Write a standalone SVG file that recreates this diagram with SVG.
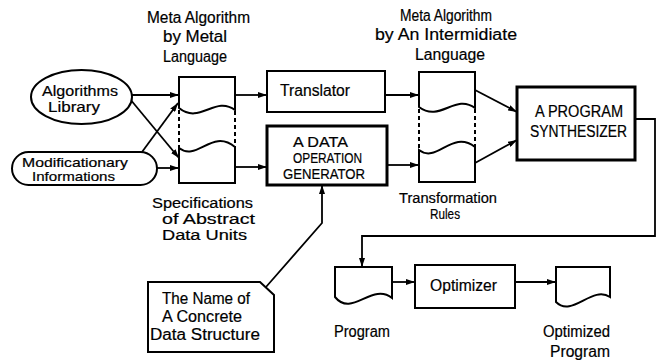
<svg xmlns="http://www.w3.org/2000/svg" width="664" height="361" viewBox="0 0 664 361">
<style>
  .s{fill:#fff;stroke:#000;stroke-width:2}
  .b{fill:#fff;stroke:#000;stroke-width:3}
  .d{fill:none;stroke:#000;stroke-width:2;stroke-dasharray:4 3}
  .c{fill:none;stroke:#000;stroke-width:1.8}
  text{font-family:"Liberation Sans",Arial,sans-serif;font-size:16px;fill:#000;stroke:#000;stroke-width:0.2}
  .t{font-size:14px}
</style>
<defs>
  <marker id="ah" markerUnits="userSpaceOnUse" markerWidth="9" markerHeight="6" refX="9" refY="3" orient="auto">
    <path d="M0,0 L9,3 L0,6 Z" fill="#000"/>
  </marker>
</defs>
<rect width="664" height="361" fill="#fff"/>

<g id="connectors">
  <line class="c" x1="132" y1="95" x2="179" y2="95" marker-end="url(#ah)"/>
  <line class="c" x1="130" y1="99" x2="179" y2="158" marker-end="url(#ah)"/>
  <line class="c" x1="142" y1="152" x2="178" y2="103" marker-end="url(#ah)"/>
  <line class="c" x1="157" y1="168" x2="179" y2="168" marker-end="url(#ah)"/>
  <line class="c" x1="235" y1="95" x2="267" y2="95" marker-end="url(#ah)"/>
  <line class="c" x1="235" y1="167" x2="267" y2="167" marker-end="url(#ah)"/>
  <line class="c" x1="385" y1="95" x2="419" y2="95" marker-end="url(#ah)"/>
  <line class="c" x1="387" y1="165" x2="419" y2="165" marker-end="url(#ah)"/>
  <line class="c" x1="475" y1="90" x2="517" y2="112" marker-end="url(#ah)"/>
  <line class="c" x1="475" y1="163" x2="517" y2="140" marker-end="url(#ah)"/>
  <polyline class="c" points="635,119 655,119 655,236 362,236 362,267" marker-end="url(#ah)"/>
  <line class="c" x1="392" y1="282" x2="415" y2="282" marker-end="url(#ah)"/>
  <line class="c" x1="515" y1="282" x2="556" y2="282" marker-end="url(#ah)"/>
  <polyline class="c" points="266,287 322,223 322,185" marker-end="url(#ah)"/>
</g>

<g id="meta-label-1">
  <text x="147" y="23" textLength="103" lengthAdjust="spacingAndGlyphs">Meta Algorithm</text>
  <text x="163" y="42" textLength="64" lengthAdjust="spacingAndGlyphs">by Metal</text>
  <text x="163" y="62" textLength="64" lengthAdjust="spacingAndGlyphs">Language</text>
</g>
<g id="meta-label-2">
  <text x="400" y="21" textLength="92" lengthAdjust="spacingAndGlyphs">Meta Algorithm</text>
  <text x="375" y="40" textLength="142" lengthAdjust="spacingAndGlyphs">by An Intermidiate</text>
  <text x="415" y="60" textLength="70" lengthAdjust="spacingAndGlyphs">Language</text>
</g>

<g id="algorithms-library">
  <ellipse class="s" cx="81.5" cy="97" rx="50.5" ry="27"/>
  <text class="t" x="42" y="96" textLength="76" lengthAdjust="spacingAndGlyphs">Algorithms</text>
  <text class="t" x="48" y="112" textLength="52" lengthAdjust="spacingAndGlyphs">Library</text>
</g>

<g id="modificationary">
  <rect class="s" x="12" y="152" width="145" height="33" rx="16.5"/>
  <text class="t" x="22" y="167" font-size="13" textLength="106" lengthAdjust="spacingAndGlyphs" style="font-size:13px">Modificationary</text>
  <text class="t" x="32" y="181" textLength="83" lengthAdjust="spacingAndGlyphs" style="font-size:13px">Informations</text>
</g>

<g id="meta-doc-1">
  <path class="s" d="M179,77 H235 V110 C215,95 200,125 179,108 Z"/>
  <path class="s" d="M179,148 C197,162 212,128 235,147 V183 H179 Z"/>
  <line class="d" x1="179" y1="110" x2="179" y2="148"/>
  <line class="d" x1="235" y1="111" x2="235" y2="147"/>
</g>

<g id="spec-label">
  <text class="t" x="152" y="208" textLength="101" lengthAdjust="spacingAndGlyphs">Specifications</text>
  <text class="t" x="162" y="224" textLength="93" lengthAdjust="spacingAndGlyphs">of Abstract</text>
  <text class="t" x="162" y="240" textLength="85" lengthAdjust="spacingAndGlyphs">Data Units</text>
</g>

<g id="translator">
  <rect class="s" x="267" y="71" width="118" height="41"/>
  <text x="280" y="96" textLength="70" lengthAdjust="spacingAndGlyphs">Translator</text>
</g>

<g id="data-op-gen">
  <rect class="b" x="267" y="126" width="120" height="59"/>
  <text class="t" x="293" y="147" textLength="55" lengthAdjust="spacingAndGlyphs">A DATA</text>
  <text class="t" x="293" y="163" textLength="69" lengthAdjust="spacingAndGlyphs">OPERATION</text>
  <text class="t" x="283" y="179" textLength="82" lengthAdjust="spacingAndGlyphs">GENERATOR</text>
</g>

<g id="meta-doc-2">
  <path class="s" d="M419,72 H475 V108 C455,93 440,123 419,107 Z"/>
  <path class="s" d="M419,150 C437,164 452,129 475,147 V182 H419 Z"/>
  <line class="d" x1="419" y1="109" x2="419" y2="150"/>
  <line class="d" x1="475" y1="109" x2="475" y2="147"/>
</g>

<g id="transformation-label">
  <text class="t" x="399" y="203" textLength="98" lengthAdjust="spacingAndGlyphs">Transformation</text>
  <text class="t" x="430" y="219" textLength="30" lengthAdjust="spacingAndGlyphs">Rules</text>
</g>

<g id="synthesizer">
  <rect class="b" x="517" y="87" width="118" height="73"/>
  <text x="535" y="117" textLength="88" lengthAdjust="spacingAndGlyphs">A PROGRAM</text>
  <text x="530" y="137" textLength="97" lengthAdjust="spacingAndGlyphs">SYNTHESIZER</text>
</g>

<g id="concrete-name">
  <path class="s" d="M148,282 H260 L274,295 V352 H148 Z"/>
  <text x="162" y="304" textLength="88" lengthAdjust="spacingAndGlyphs">The Name of</text>
  <text x="162" y="322" textLength="80" lengthAdjust="spacingAndGlyphs">A Concrete</text>
  <text x="150" y="340" textLength="110" lengthAdjust="spacingAndGlyphs">Data Structure</text>
</g>

<g id="program">
  <path class="s" d="M335,267 H392 V298 C372,282 352,318 335,297 Z"/>
  <text x="334" y="337" textLength="56" lengthAdjust="spacingAndGlyphs">Program</text>
</g>

<g id="optimizer">
  <rect class="s" x="415" y="265" width="100" height="43"/>
  <text x="430" y="291" textLength="67" lengthAdjust="spacingAndGlyphs">Optimizer</text>
</g>

<g id="optimized-program">
  <path class="s" d="M556,267 H610 V297 C592,285 572,318 556,302 Z"/>
  <text x="543" y="337" textLength="67" lengthAdjust="spacingAndGlyphs">Optimized</text>
  <text x="550" y="357" textLength="60" lengthAdjust="spacingAndGlyphs">Program</text>
</g>
</svg>
